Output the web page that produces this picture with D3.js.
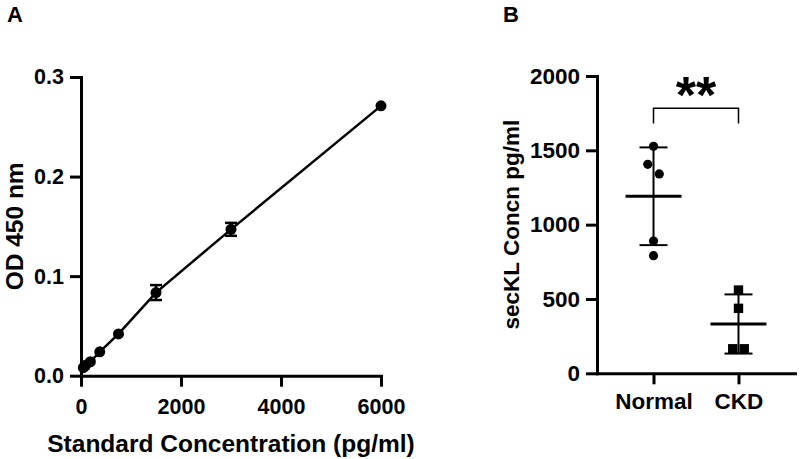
<!DOCTYPE html>
<html>
<head>
<meta charset="utf-8">
<script src="https://cdn.jsdelivr.net/npm/d3@7"></script>
<style>
  html, body { margin: 0; padding: 0; background: #fff; }
  svg { display: block; }
  text { font-family: "Liberation Sans", Arial, Helvetica, sans-serif; font-weight: bold; fill: #000; }
</style>
</head>
<body>
<svg id="chart" width="800" height="459"></svg>
<script>
// ---------- Panel A data: standard curve ----------
const stdConc = [46.875, 93.75, 187.5, 375, 750, 1500, 3000, 6000];
const stdOD   = [0.008, 0.0105, 0.014, 0.024, 0.042, 0.0835, 0.147, 0.271];
const stdSD   = [0, 0, 0, 0, 0, 0.0075, 0.0065, 0];
const xTicksA = [0, 2000, 4000, 6000];
const yTicksA = [0.0, 0.1, 0.2, 0.3];

// ---------- Panel B data: secKL concentration ----------
const groups       = ["Normal", "CKD"];
const normalValues = [1527, 1406, 1341, 890, 791];
const ckdValues    = [560, 437, 165, 165];
const yTicksB      = [0, 500, 1000, 1500, 2000];
const sigLabel     = "**";

const svg = d3.select("#chart");
const AXW = 3;

// ================= PANEL A =================
const xA = d3.scaleLinear().domain([0, 6000]).range([81, 381]);
const yA = d3.scaleLinear().domain([0, 0.3]).range([375.7, 77]);

const gA = svg.append("g");

const axA_x = gA.append("g").attr("transform", `translate(0,${yA(0)})`)
  .call(d3.axisBottom(xA).tickValues(xTicksA).tickFormat(d3.format("d")).tickSize(11).tickSizeOuter(0).tickPadding(16));
const axA_y = gA.append("g").attr("transform", `translate(${xA(0)},0)`)
  .call(d3.axisLeft(yA).tickValues(yTicksA).tickFormat(d3.format(".1f")).tickSize(11).tickSizeOuter(0).tickPadding(6));

[axA_x, axA_y].forEach(ax => {
  ax.select(".domain").attr("stroke", "#000").attr("stroke-width", AXW).attr("stroke-linecap", "square");
  ax.selectAll(".tick line").attr("stroke", "#000").attr("stroke-width", AXW);
  ax.selectAll(".tick text").style("font-size", "21.5px").attr("fill", "#000")
    .style("font-family", "'Liberation Sans', Arial, sans-serif").style("font-weight", "bold");
});
axA_x.selectAll(".tick text").attr("dy", null).attr("y", 38.5);

const ptsA = stdConc.map((c, i) => ({ x: c, y: stdOD[i], sd: stdSD[i] }));

gA.append("path").datum(ptsA)
  .attr("fill", "none").attr("stroke", "#000").attr("stroke-width", 2.5)
  .attr("d", d3.line().x(d => xA(d.x)).y(d => yA(d.y)));

// error bars
const eb = gA.selectAll(".eb").data(ptsA.filter(d => d.sd > 0)).enter().append("g");
eb.append("line").attr("x1", d => xA(d.x)).attr("x2", d => xA(d.x))
  .attr("y1", d => yA(d.y - d.sd)).attr("y2", d => yA(d.y + d.sd))
  .attr("stroke", "#000").attr("stroke-width", 2.5);
[-1, 1].forEach(s => {
  eb.append("line").attr("x1", d => xA(d.x) - 6).attr("x2", d => xA(d.x) + 6)
    .attr("y1", d => yA(d.y + s * d.sd)).attr("y2", d => yA(d.y + s * d.sd))
    .attr("stroke", "#000").attr("stroke-width", 2.5);
});

gA.selectAll(".ptA").data(ptsA).enter().append("circle")
  .attr("cx", d => xA(d.x)).attr("cy", d => yA(d.y)).attr("r", 5.5).attr("fill", "#000");

gA.append("text").attr("x", 231).attr("y", 452).attr("text-anchor", "middle")
  .style("font-size", "24.5px").text("Standard Concentration (pg/ml)");
gA.append("text").attr("transform", `translate(22.5,${(yA(0) + yA(0.3)) / 2}) rotate(-90)`)
  .attr("text-anchor", "middle").style("font-size", "24.5px").text("OD 450 nm");
gA.append("text").attr("x", 7).attr("y", 22).style("font-size", "22px").text("A");

// ================= PANEL B =================
const xB = d3.scalePoint().domain(groups).range([597, 795]).padding(0.665);
const yB = d3.scaleLinear().domain([0, 2000]).range([373.3, 76]);
const gB = svg.append("g");

const axB_x = gB.append("g").attr("transform", `translate(0,${yB(0)})`)
  .call(d3.axisBottom(xB).tickSize(11).tickSizeOuter(0));
const axB_y = gB.append("g").attr("transform", `translate(597,0)`)
  .call(d3.axisLeft(yB).tickValues(yTicksB).tickFormat(d3.format("d")).tickSize(11).tickSizeOuter(0).tickPadding(6));
[axB_x, axB_y].forEach(ax => {
  ax.select(".domain").attr("stroke", "#000").attr("stroke-width", AXW).attr("stroke-linecap", "square");
  ax.selectAll(".tick line").attr("stroke", "#000").attr("stroke-width", AXW);
  ax.selectAll(".tick text").style("font-size", "22.5px").attr("fill", "#000")
    .style("font-family", "'Liberation Sans', Arial, sans-serif").style("font-weight", "bold");
});
axB_x.selectAll(".tick text").attr("dy", null).attr("y", 36);

// dodge close points horizontally
function dodge(values, thresholdPx, spacing) {
  const sorted = values.map((v, i) => ({ v, i })).sort((a, b) => b.v - a.v);
  const clusters = [];
  sorted.forEach(p => {
    const last = clusters[clusters.length - 1];
    if (last && Math.abs(yB(last[last.length - 1].v) - yB(p.v)) < thresholdPx) last.push(p);
    else clusters.push([p]);
  });
  const out = [];
  clusters.forEach(c => c.forEach((p, k) => out.push({ v: p.v, dx: (k - (c.length - 1) / 2) * spacing })));
  return out;
}

const groupData = [
  { name: "Normal", values: normalValues, shape: "circle" },
  { name: "CKD", values: ckdValues, shape: "square" }
];

groupData.forEach(g => {
  const cx = xB(g.name);
  const m = d3.mean(g.values), s = d3.deviation(g.values);
  // SD bar
  gB.append("line").attr("x1", cx).attr("x2", cx).attr("y1", yB(m - s)).attr("y2", yB(m + s))
    .attr("stroke", "#000").attr("stroke-width", 2);
  [m - s, m + s].forEach(v => {
    gB.append("line").attr("x1", cx - 14).attr("x2", cx + 14).attr("y1", yB(v)).attr("y2", yB(v))
      .attr("stroke", "#000").attr("stroke-width", 2);
  });
  // mean line
  gB.append("line").attr("x1", cx - 28).attr("x2", cx + 28).attr("y1", yB(m)).attr("y2", yB(m))
    .attr("stroke", "#000").attr("stroke-width", 3);
  // points
  const pts = dodge(g.values, 12, 11.5);
  if (g.shape === "circle") {
    gB.selectAll(null).data(pts).enter().append("circle")
      .attr("cx", d => cx + d.dx).attr("cy", d => yB(d.v)).attr("r", 4.6).attr("fill", "#000");
  } else {
    gB.selectAll(null).data(pts).enter().append("rect")
      .attr("x", d => cx + d.dx - 4.7).attr("y", d => yB(d.v) - 4.7)
      .attr("width", 9.4).attr("height", 9.4).attr("fill", "#000");
  }
});

// significance bracket
const bx1 = xB("Normal"), bx2 = xB("CKD");
gB.append("path").attr("fill", "none").attr("stroke", "#000").attr("stroke-width", 1.5)
  .attr("d", `M${bx1},123.5V108.3H${bx2}V123.5`);
gB.append("text").attr("x", (bx1 + bx2) / 2).attr("y", 113).attr("text-anchor", "middle")
  .style("font-size", "52px").text(sigLabel);

gB.append("text").attr("transform", `translate(519,${(yB(0) + yB(2000)) / 2}) rotate(-90)`)
  .attr("text-anchor", "middle").style("font-size", "22.5px").text("secKL Concn pg/ml");
gB.append("text").attr("x", 503).attr("y", 22).style("font-size", "22px").text("B");
</script>
</body>
</html>
